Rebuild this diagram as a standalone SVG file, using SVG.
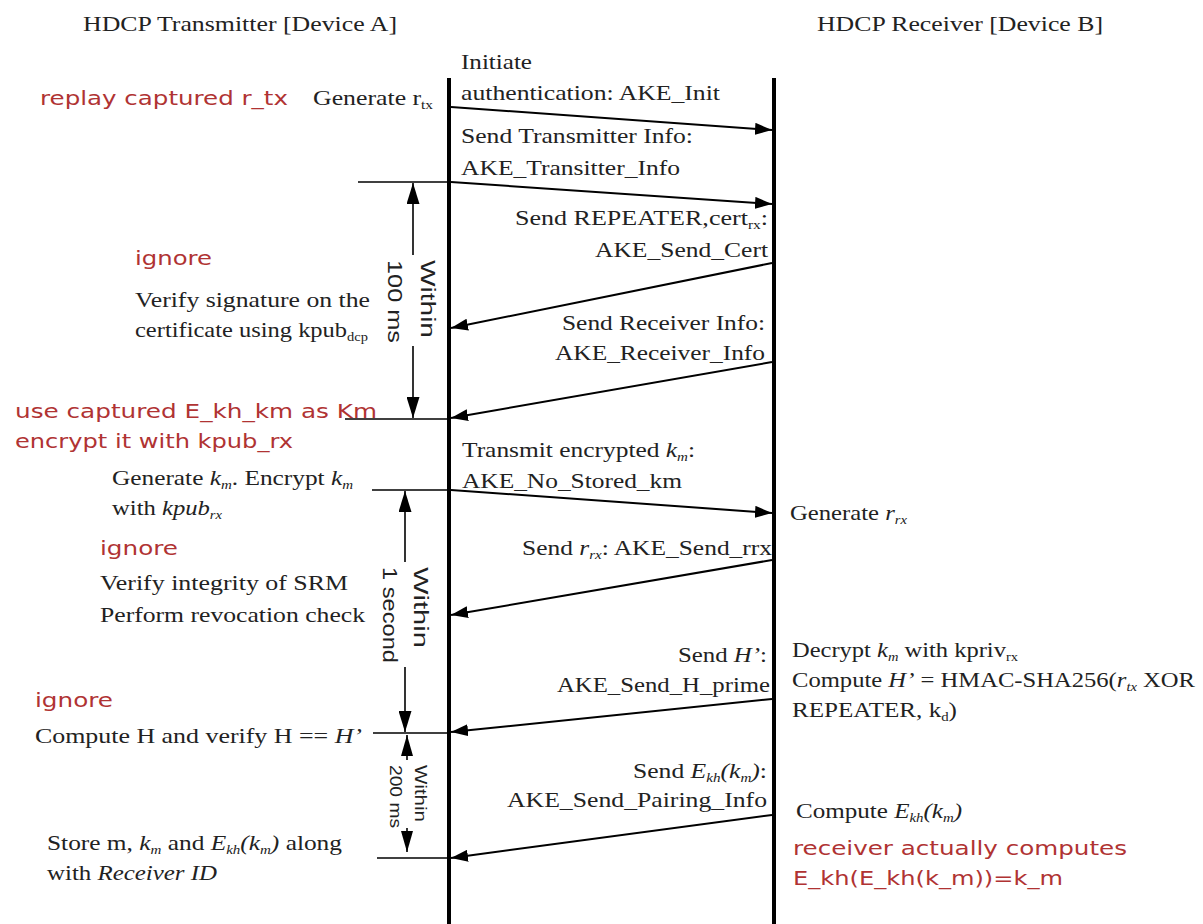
<svg xmlns="http://www.w3.org/2000/svg" width="1203" height="924" viewBox="0 0 1203 924">
<style>
.t{font-family:"Liberation Serif","Times New Roman",serif;font-size:22px;fill:#222}
.r{font-family:"DejaVu Sans",sans-serif;font-size:20px;fill:#b03333}
.v{font-family:"Liberation Sans",Arial,sans-serif;font-size:20px;fill:#222}
.s{font-size:13px}
.i{font-style:italic}
.life{stroke:#000;stroke-width:4;fill:none}
.msg{stroke:#000;stroke-width:2;fill:none;marker-end:url(#ah)}
.tick{stroke:#000;stroke-width:1.6;fill:none}
.br{stroke:#000;stroke-width:1.6;fill:none;marker-end:url(#bh)}
.br3{stroke:#000;stroke-width:1.6;fill:none;marker-end:url(#bh3)}
</style>
<defs>
<marker id="ah" markerUnits="userSpaceOnUse" markerWidth="18" markerHeight="12" refX="17" refY="6" orient="auto"><path d="M0,0 L17,6 L0,12 z" fill="#000"/></marker>
<marker id="bh" markerUnits="userSpaceOnUse" markerWidth="22" markerHeight="13" refX="21" refY="6.5" orient="auto"><path d="M0,0 L21,6.5 L0,13 z" fill="#000"/></marker>
<marker id="bh3" markerUnits="userSpaceOnUse" markerWidth="22" markerHeight="12" refX="21" refY="6" orient="auto"><path d="M0,0 L21,6 L0,12 z" fill="#000"/></marker>
</defs>
<rect width="1203" height="924" fill="#fff"/>

<g id="transmitter">
<text class="t" x="83" y="31" textLength="314" lengthAdjust="spacingAndGlyphs">HDCP Transmitter [Device A]</text>
<line class="life" x1="449" y1="78" x2="449" y2="924"/>
</g>
<g id="receiver">
<text class="t" x="817" y="31" textLength="286" lengthAdjust="spacingAndGlyphs">HDCP Receiver [Device B]</text>
<line class="life" x1="774" y1="78" x2="774" y2="924"/>
</g>

<g id="note-replay"><text class="r" x="40" y="105" textLength="248" lengthAdjust="spacingAndGlyphs">replay captured r_tx</text></g>
<g id="note-gen-rtx"><text class="t" x="313" y="105" textLength="120" lengthAdjust="spacingAndGlyphs">Generate r<tspan class="s" dy="4">tx</tspan></text></g>

<g id="note-verify-sig">
<text class="r" x="135" y="265" textLength="77" lengthAdjust="spacingAndGlyphs">ignore</text>
<text class="t" x="135" y="307" textLength="235" lengthAdjust="spacingAndGlyphs">Verify signature on the</text>
<text class="t" x="135" y="337" textLength="233" lengthAdjust="spacingAndGlyphs">certificate using kpub<tspan class="s" dy="4">dcp</tspan></text>
</g>

<g id="note-use-captured">
<text class="r" x="15" y="418" textLength="362" lengthAdjust="spacingAndGlyphs">use captured E_kh_km as Km</text>
<text class="r" x="15" y="448" textLength="278" lengthAdjust="spacingAndGlyphs">encrypt it with kpub_rx</text>
</g>

<g id="note-gen-km">
<text class="t" x="112" y="485" textLength="241" lengthAdjust="spacingAndGlyphs">Generate <tspan class="i">k</tspan><tspan class="s i" dy="4">m</tspan><tspan dy="-4">. Encrypt </tspan><tspan class="i">k</tspan><tspan class="s i" dy="4">m</tspan></text>
<text class="t" x="112" y="515" textLength="110" lengthAdjust="spacingAndGlyphs">with <tspan class="i">kpub</tspan><tspan class="s i" dy="4">rx</tspan></text>
</g>

<g id="note-srm">
<text class="r" x="100" y="555" textLength="78" lengthAdjust="spacingAndGlyphs">ignore</text>
<text class="t" x="100" y="590" textLength="248" lengthAdjust="spacingAndGlyphs">Verify integrity of SRM</text>
<text class="t" x="100" y="622" textLength="265" lengthAdjust="spacingAndGlyphs">Perform revocation check</text>
</g>

<g id="note-compute-h">
<text class="r" x="35" y="707" textLength="78" lengthAdjust="spacingAndGlyphs">ignore</text>
<text class="t" x="35" y="743" textLength="327" lengthAdjust="spacingAndGlyphs">Compute H and verify H == <tspan class="i">H’</tspan></text>
</g>

<g id="note-store">
<text class="t" x="47" y="850" textLength="295" lengthAdjust="spacingAndGlyphs">Store m, <tspan class="i">k</tspan><tspan class="s i" dy="4">m</tspan><tspan dy="-4"> and </tspan><tspan class="i">E</tspan><tspan class="s i" dy="4">kh</tspan><tspan class="i" dy="-4">(k</tspan><tspan class="s i" dy="4">m</tspan><tspan class="i" dy="-4">)</tspan> along</text>
<text class="t" x="47" y="880" textLength="170" lengthAdjust="spacingAndGlyphs">with <tspan class="i">Receiver ID</tspan></text>
</g>

<g id="note-gen-rrx"><text class="t" x="790" y="520" textLength="117" lengthAdjust="spacingAndGlyphs">Generate <tspan class="i">r</tspan><tspan class="s i" dy="4">rx</tspan></text></g>

<g id="note-decrypt">
<text class="t" x="792" y="657" textLength="226" lengthAdjust="spacingAndGlyphs">Decrypt <tspan class="i">k</tspan><tspan class="s i" dy="4">m</tspan><tspan dy="-4"> with kpriv</tspan><tspan class="s" dy="4">rx</tspan></text>
<text class="t" x="792" y="687" textLength="403" lengthAdjust="spacingAndGlyphs">Compute <tspan class="i">H’</tspan> = HMAC-SHA256(<tspan class="i">r</tspan><tspan class="s i" dy="4">tx</tspan><tspan dy="-4"> XOR</tspan></text>
<text class="t" x="792" y="717" textLength="165" lengthAdjust="spacingAndGlyphs">REPEATER, k<tspan class="s" dy="4">d</tspan><tspan dy="-4">)</tspan></text>
</g>

<g id="note-compute-ekh">
<text class="t" x="796" y="818" textLength="166" lengthAdjust="spacingAndGlyphs">Compute <tspan class="i">E</tspan><tspan class="s i" dy="4">kh</tspan><tspan class="i" dy="-4">(k</tspan><tspan class="s i" dy="4">m</tspan><tspan class="i" dy="-4">)</tspan></text>
<text class="r" x="793" y="855" textLength="334" lengthAdjust="spacingAndGlyphs">receiver actually computes</text>
<text class="r" x="793" y="885" textLength="270" lengthAdjust="spacingAndGlyphs">E_kh(E_kh(k_m))=k_m</text>
</g>

<g id="timing-100ms">
<line class="br" x1="413" y1="255" x2="413" y2="183"/>
<line class="br" x1="413" y1="346" x2="413" y2="418"/>
<text class="v" transform="translate(421,260) rotate(90)" textLength="78" lengthAdjust="spacingAndGlyphs">Within</text>
<text class="v" transform="translate(388,260) rotate(90)" textLength="83" lengthAdjust="spacingAndGlyphs">100 ms</text>
</g>
<g id="timing-1s">
<line class="br" x1="405" y1="562" x2="405" y2="491"/>
<line class="br" x1="405" y1="667" x2="405" y2="732"/>
<text class="v" transform="translate(414,567) rotate(90)" textLength="81" lengthAdjust="spacingAndGlyphs">Within</text>
<text class="v" transform="translate(383,567) rotate(90)" textLength="96" lengthAdjust="spacingAndGlyphs">1 second</text>
</g>
<g id="timing-200ms">
<line class="br3" x1="407" y1="760" x2="407" y2="735"/>
<line class="br3" x1="407" y1="828" x2="407" y2="852"/>
<text class="v" style="font-size:16px" transform="translate(415,765) rotate(90)" textLength="57" lengthAdjust="spacingAndGlyphs">Within</text>
<text class="v" style="font-size:16px" transform="translate(390,765) rotate(90)" textLength="63" lengthAdjust="spacingAndGlyphs">200 ms</text>
</g>

<g id="labels">
<text class="t" x="461" y="69" textLength="71" lengthAdjust="spacingAndGlyphs">Initiate</text>
<text class="t" x="461" y="100" textLength="259" lengthAdjust="spacingAndGlyphs">authentication: AKE_Init</text>
<text class="t" x="461" y="143" textLength="232" lengthAdjust="spacingAndGlyphs">Send Transmitter Info:</text>
<text class="t" x="461" y="175" textLength="219" lengthAdjust="spacingAndGlyphs">AKE_Transitter_Info</text>
<text class="t" x="515" y="225" textLength="253" lengthAdjust="spacingAndGlyphs">Send REPEATER,cert<tspan class="s" dy="4">rx</tspan><tspan dy="-4">:</tspan></text>
<text class="t" x="595" y="257" textLength="173" lengthAdjust="spacingAndGlyphs">AKE_Send_Cert</text>
<text class="t" x="562" y="330" textLength="203" lengthAdjust="spacingAndGlyphs">Send Receiver Info:</text>
<text class="t" x="555" y="360" textLength="210" lengthAdjust="spacingAndGlyphs">AKE_Receiver_Info</text>
<text class="t" x="462" y="457" textLength="233" lengthAdjust="spacingAndGlyphs">Transmit encrypted <tspan class="i">k</tspan><tspan class="s i" dy="4">m</tspan><tspan dy="-4">:</tspan></text>
<text class="t" x="462" y="488" textLength="220" lengthAdjust="spacingAndGlyphs">AKE_No_Stored_km</text>
<text class="t" x="522" y="555" textLength="250" lengthAdjust="spacingAndGlyphs">Send <tspan class="i">r</tspan><tspan class="s i" dy="4">rx</tspan><tspan dy="-4">: AKE_Send_rrx</tspan></text>
<text class="t" x="678" y="662" textLength="89" lengthAdjust="spacingAndGlyphs">Send <tspan class="i">H’</tspan>:</text>
<text class="t" x="557" y="692" textLength="213" lengthAdjust="spacingAndGlyphs">AKE_Send_H_prime</text>
<text class="t" x="633" y="778" textLength="134" lengthAdjust="spacingAndGlyphs">Send <tspan class="i">E</tspan><tspan class="s i" dy="4">kh</tspan><tspan class="i" dy="-4">(k</tspan><tspan class="s i" dy="4">m</tspan><tspan class="i" dy="-4">)</tspan>:</text>
<text class="t" x="507" y="807" textLength="260" lengthAdjust="spacingAndGlyphs">AKE_Send_Pairing_Info</text>
</g>

<g id="connectors">
<line class="msg" x1="451" y1="107" x2="772" y2="130"/>
<line class="tick" x1="358" y1="182" x2="449" y2="182"/>
<line class="msg" x1="451" y1="182" x2="772" y2="204"/>
<line class="msg" x1="772" y1="263" x2="451" y2="328"/>
<line class="msg" x1="772" y1="362" x2="451" y2="418"/>
<line class="tick" x1="345" y1="419" x2="449" y2="419"/>
<line class="tick" x1="372" y1="490" x2="449" y2="490"/>
<line class="msg" x1="451" y1="490" x2="772" y2="513"/>
<line class="msg" x1="772" y1="560" x2="451" y2="615"/>
<line class="msg" x1="772" y1="699" x2="451" y2="732"/>
<line class="tick" x1="373" y1="733" x2="449" y2="733"/>
<line class="msg" x1="772" y1="815" x2="451" y2="858"/>
<line class="tick" x1="377" y1="858" x2="449" y2="858"/>
</g>
</svg>
